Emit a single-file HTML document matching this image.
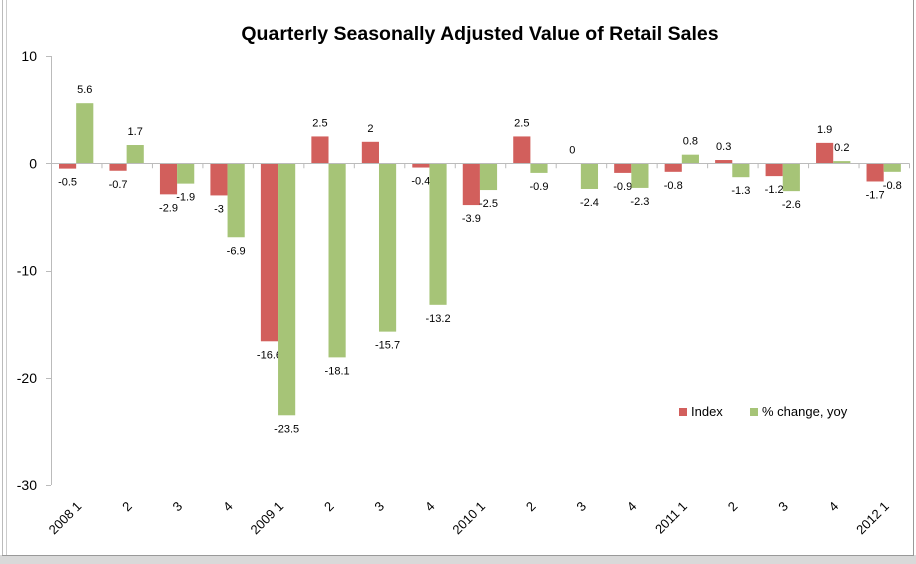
<!DOCTYPE html>
<html><head><meta charset="utf-8"><style>
body{margin:0;background:#fff;font-family:"Liberation Sans",sans-serif}
svg{display:block}
</style></head><body>
<svg width="916" height="564">
<rect x="0" y="0" width="916" height="564" fill="#fff"/>
<rect x="0" y="555" width="916" height="9" fill="#d9d9d9"/>
<line x1="2.5" y1="0" x2="2.5" y2="556" stroke="#bbb"/>
<line x1="6.5" y1="0" x2="6.5" y2="556" stroke="#ccc"/>
<line x1="913.5" y1="0" x2="913.5" y2="556" stroke="#999"/>
<line x1="2" y1="555.5" x2="914" y2="555.5" stroke="#999"/>
<text x="480" y="40" text-anchor="middle" font-size="19.5" font-weight="bold">Quarterly Seasonally Adjusted Value of Retail Sales</text>
<g id="plot"></g>
<g>
<rect x="679" y="408" width="8" height="8" fill="#d25f5c"/>
<text x="691" y="416" font-size="13">Index</text>
<rect x="750" y="408" width="8" height="8" fill="#a6c477"/>
<text x="762" y="416" font-size="13">%  change, yoy</text>
</g>
</svg>
<script>
const categories=["2008 1","2","3","4","2009 1","2","3","4","2010 1","2","3","4","2011 1","2","3","4","2012 1"];
const indexVals=[-0.5,-0.7,-2.9,-3,-16.6,2.5,2,-0.4,-3.9,2.5,0,-0.9,-0.8,0.3,-1.2,1.9,-1.7];
const yoyVals=[5.6,1.7,-1.9,-6.9,-23.5,-18.1,-15.7,-13.2,-2.5,-0.9,-2.4,-2.3,0.8,-1.3,-2.6,0.2,-0.8];
const yTicks=[10,0,-10,-20,-30];
const NS="http://www.w3.org/2000/svg";
const g=document.getElementById('plot');
const x0=51,x1=909,yMax=10,yMin=-30,yTop=56,yBot=485;
const bw=(x1-x0)/categories.length;
function y(v){return yTop+(yMax-v)/(yMax-yMin)*(yBot-yTop);}
function mk(t,a,txt){const e=document.createElementNS(NS,t);for(const k in a)e.setAttribute(k,a[k]);if(txt!==undefined)e.textContent=txt;g.appendChild(e);return e;}
let ax=mk('line',{x1:x0+.5,y1:yTop,x2:x0+.5,y2:yBot,stroke:'#bbb'});


yTicks.forEach(v=>{
 const t=mk('line',{x1:x0-5,y1:Math.round(y(v))+.5,x2:x0,y2:Math.round(y(v))+.5,stroke:'#bbb'});
 
 
 const l=mk('text',{x:x0-14,y:y(v)+5,'text-anchor':'end','font-size':14},String(v));
 
 
});
categories.forEach((c,i)=>{
 const cx=x0+i*bw;
 const tk=mk('line',{x1:cx+bw+.5,y1:y(0),x2:cx+bw+.5,y2:y(0)+5,stroke:'#bbb'});
 
 
 [[indexVals[i],'#d25f5c',cx+8,'bar-index'],[yoyVals[i],'#a6c477',cx+8+bw*0.34,'bar-yoy']].forEach(([v,col,bx,nm])=>{
  const w=bw*0.34;
  const r=mk('rect',{x:bx,y:Math.min(y(v),y(0)),width:w,height:Math.abs(y(v)-y(0)),fill:col});
  
  
  const ly=v>=0?y(v)-10:y(v)+17;
  const lb=mk('text',{x:bx+w/2,y:ly,'text-anchor':'middle','font-size':11},String(v));
  
  
 });
 const lx=cx+bw/2+6, lyy=507;
 const xl=mk('text',{x:lx,y:lyy,'text-anchor':'end','font-size':13,transform:`rotate(-45 ${lx} ${lyy})`},c);
 
 
});
const zl=mk('line',{x1:x0,y1:Math.round(y(0))+.5,x2:x1,y2:Math.round(y(0))+.5,stroke:'#bbb'});


</script>
</body></html>
